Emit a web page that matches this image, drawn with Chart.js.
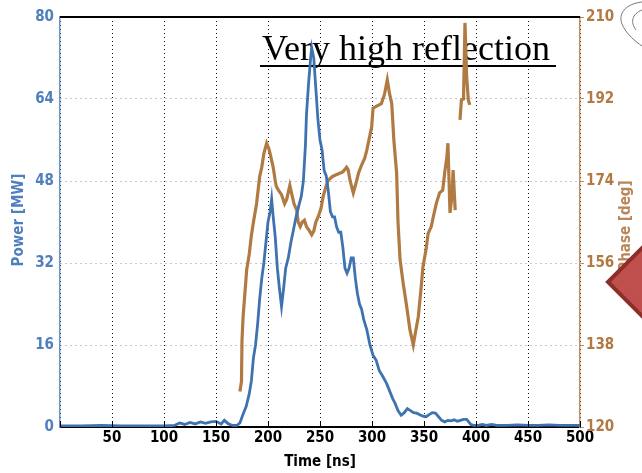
<!DOCTYPE html>
<html>
<head>
<meta charset="utf-8">
<script src="https://cdn.jsdelivr.net/npm/chart.js@4.4.1/dist/chart.umd.min.js"></script>
<style>
  html, body { margin: 0; padding: 0; background: #fff; }
  #wrap { width: 642px; height: 473px; }
</style>
</head>
<body>
<div id="wrap"><canvas id="chart" width="642" height="473"></canvas></div>
<script>
// Power trace (left axis, MW)
const powerTime = [0, 20, 40, 60, 80, 100, 110, 115, 120, 125, 130, 135, 140, 145, 150, 155, 158, 162, 166, 170,
  173, 176, 179, 182, 184, 186, 188, 190, 192, 194, 196, 198, 200, 202, 203.5, 205, 207, 209, 211, 213,
  215, 217, 219.5, 222, 224.4, 227, 230, 232, 234, 236, 237, 239, 241, 242, 244, 246, 248, 250, 252, 254,
  256, 258, 260, 262, 264, 266, 268, 270, 272, 274, 276, 278, 280, 282, 284, 286, 288, 290, 292, 295,
  298, 301, 304, 307, 310, 314, 317, 320, 322, 325, 328, 331, 334, 337, 340, 343, 346, 349, 352, 355,
  358, 361, 364, 367, 370, 373, 376, 379, 382, 385, 388, 391, 393, 395, 398, 402, 406, 410, 415, 420,
  430, 440, 450, 460, 470, 480, 490, 500];
const powerMW = [0.2, 0.2, 0.3, 0.2, 0.2, 0.2, 0.3, 0.8, 0.5, 0.9, 0.6, 1.0, 0.7, 1.0, 1.1, 0.6, 1.3, 0.6, 0.3, 0.3,
  0.8, 2.5, 4, 6.5, 9, 13.5, 16, 20, 25, 29, 32, 36, 40, 42, 44.5, 41, 37, 31, 27, 23.5,
  27, 31, 33, 36, 38.4, 41, 43.5, 45, 48, 55, 61, 67, 72, 74, 72, 66, 60, 56, 54, 50,
  49, 46, 42, 41, 41, 39, 38, 38, 35, 31, 30, 31, 33, 33, 29, 26, 24, 23, 21, 19,
  16, 14, 13, 11, 10, 8.5, 7, 5.5, 4.7, 3.2, 2.3, 2.8, 3.6, 3.2, 2.8, 2.7, 2.4, 2.1, 2.0, 2.4,
  2.8, 2.7, 2.0, 1.3, 1.0, 1.3, 1.2, 1.4, 1.1, 1.3, 1.5, 1.5, 1.0, 0.5, 0.3, 0.3, 0.5, 0.3, 0.5, 0.3,
  0.3, 0.4, 0.3, 0.3, 0.4, 0.3, 0.3, 0.3];

// Phase trace (right axis, deg); null marks the gap in the trace
const phaseTime = [173, 174.5, 175, 176, 178, 179.5, 182, 184, 186, 189, 192, 194, 196, 198.7, 201, 203, 205, 207, 208, 210,
  213, 216, 218, 221, 223, 225, 227.6, 229, 231, 233, 235, 237, 240, 242, 244, 246, 248.4, 251, 253, 256,
  258, 262, 265, 269, 272, 275.6, 277, 279, 282, 284, 287, 290, 293, 295, 298, 299.7, 301, 305, 309, 312,
  314.7, 317, 319, 321, 323.7, 325, 327, 330, 333, 336.5, 339.7, 342, 344.5, 347, 349, 352, 354, 357, 359, 362,
  365, 368, 370, 372, 373, 375, 377, 378, 380, 382, 384.6, 386, 388, 389.4, 391, 392.6, 394];
const phaseDeg = [127.8, 130, 139, 144, 150, 154.5, 158, 162, 165, 169, 175, 177, 180, 182.3, 181, 179, 177, 174, 172.8, 172,
  171, 169, 170, 173, 171, 169, 167.6, 165, 164, 165, 165.4, 164, 163, 162.2, 163, 165, 166.2, 168, 170.6, 173,
  174.2, 175, 175.3, 175.7, 176, 177, 176.5, 174, 171.4, 173, 175.7, 177.5, 179, 180.8, 184, 185.9, 190, 190.5, 191, 193,
  196.2, 193, 191, 183, 175.7, 165, 156.7, 151.5, 147, 141.3, 138, 141, 144.2, 150, 155.2, 159, 162.5, 164, 166.2, 169.2,
  171.4, 172, 176, 179.3, 182.3, 167, 171, 176.4, 167.6, null, 187.4, 191.8, 192, 208.7, 196.9, 191.8, 190.7];

const timeTicks = [0, 50, 100, 150, 200, 250, 300, 350, 400, 450, 500];
const powerTicks = [0, 16, 32, 48, 64, 80];
const phaseTicks = [120, 138, 156, 174, 192, 210];

const blue = "#3f73b0";
const brown = "#b07a42";
const labelFont = "'DejaVu Sans Condensed', 'Liberation Sans Narrow', 'Arial Narrow', 'Liberation Sans', sans-serif";

const powerPts = powerTime.map((t, i) => ({ x: t, y: powerMW[i] }));
const phasePts = phaseTime.map((t, i) => ({ x: t, y: phaseDeg[i] }));

// extra drawing: frame top, inward x ticks, axis titles, headline, overlay shapes
const decorPlugin = {
  id: "decor",
  beforeDatasetsDraw(chart) {
    // headline sits under the traces
    const ctx = chart.ctx;
    ctx.save();
    ctx.font = "36px 'Liberation Serif', 'Times New Roman', serif";
    ctx.textAlign = "left";
    ctx.textBaseline = "alphabetic";
    ctx.fillStyle = "#000";
    ctx.fillText("Very high reflection", 262, 60);
    ctx.strokeStyle = "#000";
    ctx.lineWidth = 2;
    ctx.beginPath();
    ctx.moveTo(260, 66);
    ctx.lineTo(556, 66);
    ctx.stroke();
    ctx.restore();
  },
  afterDraw(chart) {
    const ctx = chart.ctx;
    const a = chart.chartArea;
    const xs = chart.scales.x;
    ctx.save();

    // top frame line
    ctx.strokeStyle = "#000";
    ctx.lineWidth = 2;
    ctx.beginPath();
    ctx.moveTo(a.left, a.top);
    ctx.lineTo(a.right, a.top);
    ctx.stroke();

    // small inward ticks on time axis
    ctx.lineWidth = 1;
    timeTicks.forEach((t) => {
      const px = Math.round(xs.getPixelForValue(t)) + 0.5;
      ctx.beginPath();
      ctx.moveTo(px, a.bottom);
      ctx.lineTo(px, a.bottom - 6);
      ctx.stroke();
    });

    // axis titles
    ctx.font = "bold 15px " + labelFont;
    ctx.textAlign = "center";
    ctx.textBaseline = "middle";
    ctx.fillStyle = "#000";
    ctx.fillText("Time [ns]", (a.left + a.right) / 2, 462);

    ctx.save();
    ctx.translate(19, 220);
    ctx.rotate(-Math.PI / 2);
    ctx.fillStyle = "#4f7fbc";
    ctx.fillText("Power [MW]", 0, 0);
    ctx.restore();

    ctx.save();
    ctx.translate(626, 226);
    ctx.rotate(-Math.PI / 2);
    ctx.fillStyle = "#b8865a";
    ctx.fillText("Phase [deg]", 0, 0);
    ctx.restore();

    // red diamond cut by the right edge
    ctx.fillStyle = "#c0504d";
    ctx.strokeStyle = "#8c2f2b";
    ctx.lineWidth = 4;
    ctx.beginPath();
    ctx.moveTo(608, 282);
    ctx.lineTo(690, 200);
    ctx.lineTo(772, 282);
    ctx.lineTo(690, 364);
    ctx.closePath();
    ctx.fill();
    ctx.stroke();

    // faint sketch lines in the top right corner
    ctx.strokeStyle = "#777";
    ctx.lineWidth = 1;
    ctx.beginPath();
    ctx.moveTo(642, 2);
    ctx.bezierCurveTo(625, 4, 618, 14, 622, 24);
    ctx.bezierCurveTo(626, 34, 636, 42, 642, 46);
    ctx.stroke();
    ctx.beginPath();
    ctx.moveTo(642, 10);
    ctx.bezierCurveTo(632, 14, 630, 22, 636, 30);
    ctx.stroke();

    ctx.restore();
  },
};

new Chart(document.getElementById("chart"), {
  type: "line",
  data: {
    datasets: [
      {
        label: "Power",
        data: powerPts,
        yAxisID: "y",
        borderColor: blue,
        borderWidth: 2.8,
        pointRadius: 0,
        tension: 0,
      },
      {
        label: "Phase",
        data: phasePts,
        yAxisID: "y1",
        borderColor: brown,
        borderWidth: 3.2,
        pointRadius: 0,
        tension: 0,
        spanGaps: false,
      },
    ],
  },
  options: {
    responsive: false,
    animation: false,
    events: [],
    layout: { padding: { top: 17 } },
    plugins: { legend: { display: false }, tooltip: { enabled: false } },
    scales: {
      x: {
        type: "linear",
        min: 0,
        max: 500,
        afterBuildTicks: (s) => { s.ticks = timeTicks.map((v) => ({ value: v })); },
        afterFit: (s) => { s.height = 46; },
        ticks: {
          color: "#000",
          font: { family: labelFont, size: 15, weight: "bold" },
          padding: 2,
          maxRotation: 0,
          callback: (v) => (v === 0 ? "" : v),
        },
        grid: {
          color: "#111",
          lineWidth: 1,
          drawTicks: false,
        },
        border: { color: "#000", width: 2, dash: [1, 3] },
      },
      y: {
        position: "left",
        min: 0,
        max: 80,
        afterBuildTicks: (s) => { s.ticks = powerTicks.map((v) => ({ value: v })); },
        afterFit: (s) => { s.width = 60; },
        ticks: {
          color: "#4f7fbc",
          font: { family: labelFont, size: 15, weight: "bold" },
          padding: 6,
        },
        grid: { color: "#6f98c8", lineWidth: 1, drawTicks: false },
        border: { color: "#6b93c6", width: 1.5, dash: [1, 4] },
      },
      y1: {
        position: "right",
        min: 120,
        max: 210,
        afterBuildTicks: (s) => { s.ticks = phaseTicks.map((v) => ({ value: v })); },
        afterFit: (s) => { s.width = 62; },
        ticks: {
          color: "#b07a42",
          font: { family: labelFont, size: 15, weight: "bold" },
          padding: 2,
        },
        grid: { drawOnChartArea: false, color: "#c09060", tickLength: 4 },
        border: { color: "#c09060", width: 1.5 },
      },
    },
  },
  plugins: [decorPlugin],
});
</script>
</body>
</html>
